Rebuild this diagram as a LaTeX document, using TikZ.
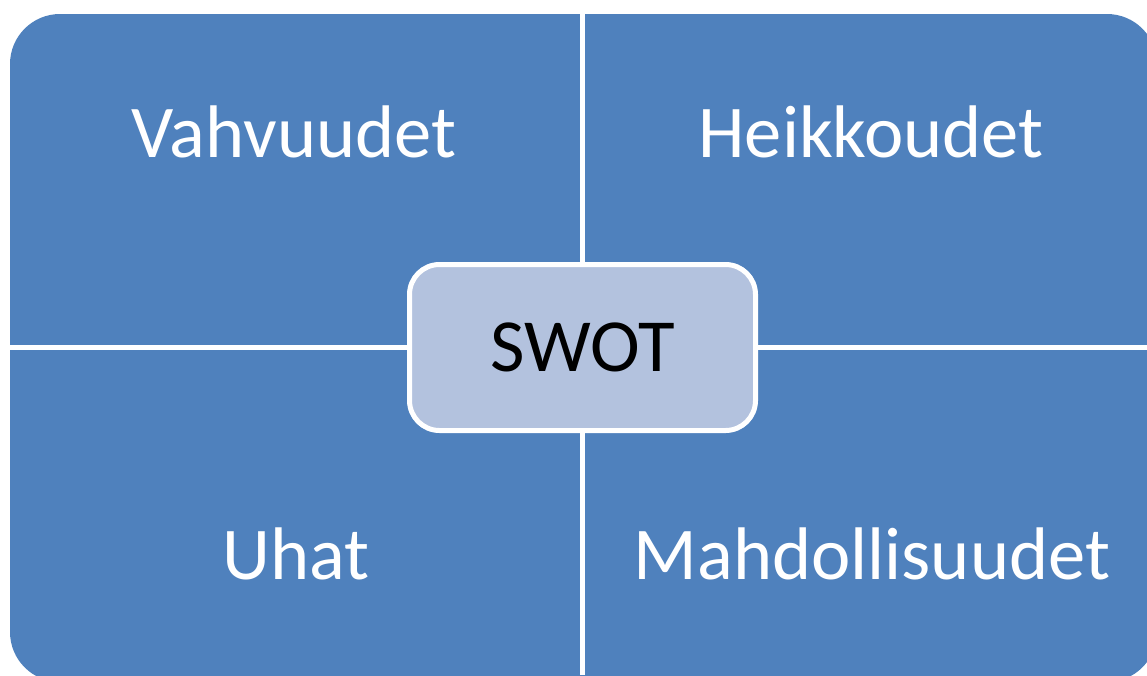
\documentclass[tikz,border=0pt]{standalone}
\usepackage{fontspec}
\setmainfont{Carlito}
\usetikzlibrary{positioning}
\definecolor{swotblue}{HTML}{4F81BD}
\definecolor{swotlight}{HTML}{B3C2DE}

\begin{document}
\begin{tikzpicture}[
  x=1pt, y=-1pt,
  quadlabel/.style={text=white, font=\fontsize{74.5}{89}\selectfont, anchor=base, inner sep=0pt},
  corebox/.style={rectangle, rounded corners=30pt, draw=white, line width=5pt, fill=swotlight, minimum width=346pt, minimum height=166pt, font=\fontsize{75}{90}\selectfont}
]
\useasboundingbox (0,0) rectangle (1147,675);
\clip (0,0) rectangle (1147,675);

% blue field, split into four by white gaps
\fill[swotblue, rounded corners=50pt] (10,14) rectangle (1157,682);
\draw[white, line width=5pt] (582.5,0) -- (582.5,675);
\draw[white, line width=5pt] (0,347) -- (1147,347);

\node[quadlabel] (strengths) at (294,157) {Vahvuudet};
\node[quadlabel] (weaknesses) at (871,157) {Heikkoudet};
\node[quadlabel] (threats) at (296,579) {Uhat};
\node[quadlabel] (chances) at (872,579) {Mahdollisuudet};

\node[corebox] (swot) at (582.5,347.5) {SWOT};
\end{tikzpicture}
\end{document}
